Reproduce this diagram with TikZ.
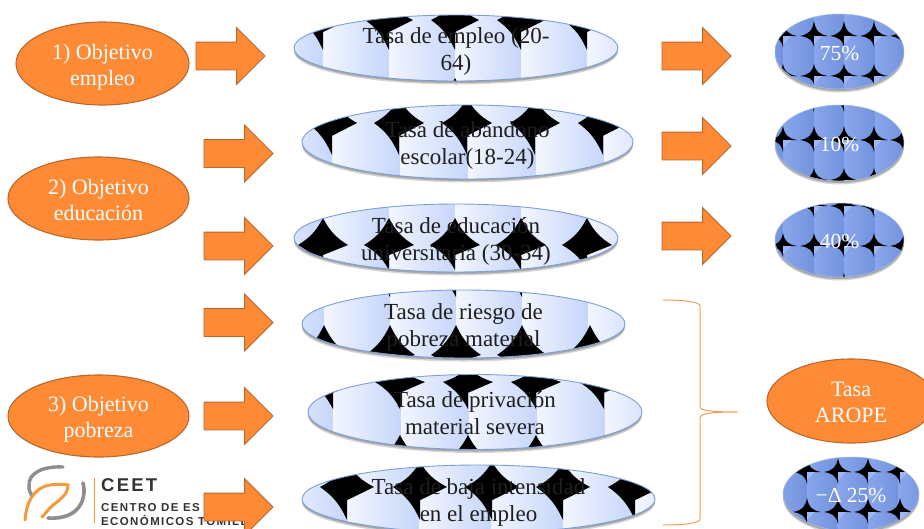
\documentclass[tikz,border=0pt]{standalone}
\usepackage{fontspec}
\setmainfont{Liberation Serif}
\newfontfamily\logofont[LetterSpace=12]{Liberation Sans}
\usetikzlibrary{shapes.geometric,shapes.arrows}
\definecolor{orfill}{HTML}{FE8A35}
\definecolor{ordraw}{HTML}{B9682E}
\definecolor{lineblue}{HTML}{7C9FD8}
\definecolor{litea}{HTML}{F3F6FF}
\definecolor{liteb}{HTML}{C6D6FA}
\definecolor{darka}{HTML}{8AA6EC}
\definecolor{darkb}{HTML}{7192DC}
\definecolor{darkc}{HTML}{A0B8F2}
\definecolor{bracecol}{HTML}{FB9A55}
\definecolor{logogray}{HTML}{8E8E8E}
\definecolor{logoor}{HTML}{F59A3C}
\newcommand{\tx}[2][-8.5pt]{\raisebox{#1}[0pt][0pt]{\begin{tabular}{@{}c@{}}#2\end{tabular}}}
\newcommand{\tl}[1]{\tx[-10pt]{#1}}
\tikzset{
  x=1pt,y=-1pt,
  ovaltext/.style={align=center,ellipse,inner sep=0pt,outer sep=0pt},
  orangeoval/.style={ovaltext,font=\fontsize{22}{26}\selectfont,fill=orfill,draw=ordraw,line width=1.1pt,text=white},
  liteoval/.style={ovaltext,font=\fontsize{23}{26.5}\selectfont,draw=lineblue,line width=.9pt,text=black!88},
  darkoval/.style={ovaltext,font=\fontsize{21.5}{26}\selectfont,draw=lineblue!70!white,line width=.5pt,text=white},
  bigarrow/.style={single arrow,shape border rotate=0,anchor=tail,text width=0pt,text height=27pt,text depth=0pt,
    minimum height=69pt,single arrow head extend=14.5pt,inner sep=0pt,outer sep=0pt,
    fill=orfill,draw=ordraw,line width=.9pt},
  logotext/.style={anchor=west,inner sep=0pt,text=black!80,font=\logofont}
}
% star: cx cy a top bottom
\newcommand{\onestar}[5]{%
  \fill[black] (#1,#2-#4) .. controls (#1+.27*#3,#2-.52*#4) and (#1+.52*#3,#2-.27*#4) .. (#1+#3,#2)
    -- (#1,#2+.40*#5) -- (#1,#2+#5)
    .. controls (#1-.27*#3,#2+.52*#5) and (#1-.52*#3,#2+.27*#5) .. (#1-#3,#2)
    .. controls (#1-.52*#3,#2-.27*#4) and (#1-.27*#3,#2-.52*#4) .. cycle;}
% the slimmer star of the small, dark tiles
\newcommand{\slimstar}[5]{%
  \fill[black] (#1,#2-#4) .. controls (#1+.12*#3,#2-.35*#4) and (#1+.35*#3,#2-.12*#4) .. (#1+#3,#2)
    -- (#1,#2) -- (#1,#2+#5)
    .. controls (#1-.12*#3,#2+.35*#5) and (#1-.35*#3,#2+.12*#5) .. (#1-#3,#2)
    .. controls (#1-.35*#3,#2-.12*#4) and (#1-.12*#3,#2-.35*#4) .. cycle;}
\newcommand{\starrow}[5]{\foreach \sx in {#1}{\onestar{\sx}{#2}{#3}{#4}{#5}}}
\newcommand{\litetiles}[5]{% start period n top bottom
  \foreach \ti in {0,...,#3}{
    \shade[left color=litea,right color=liteb] ({#1+\ti*#2},#4) rectangle ({#1+\ti*#2+#2+.3},#5);}}
\newcommand{\darktiles}[5]{%
  \foreach \ti in {0,...,#3}{
    \shade[left color=darka,right color=darkb] ({#1+\ti*#2},#4) rectangle ({#1+\ti*#2+#2+.3},#5);}}
\newcommand{\darkrow}[5]{% seams y a top bottom
  \foreach \sx in {#1}{
    \slimstar{\sx}{#2}{#3}{#4}{#5}
    \fill[darkc] (\sx,#2) -- (\sx+8,#2) -- (\sx,#2+8) -- cycle;}}
\newcommand{\ovalshadow}[4]{%
  \fill[black,opacity=.16] (#1,#2+3.5) ellipse [x radius=#3,y radius=#4];
  \fill[black,opacity=.22] (#1,#2+2) ellipse [x radius=#3,y radius=#4];}
\begin{document}
\begin{tikzpicture}
\path[use as bounding box,clip] (0,0) rectangle (924,528);
\fill[white] (0,0) rectangle (924,528);

% logo
\draw[logogray,line width=3.4pt,line cap=round] (63,467) .. controls (45,466) and (28,472) .. (29,486) .. controls (29,490) and (30,493) .. (32,496);
\draw[logogray,line width=3.6pt,line cap=round] (83,483) .. controls (87,498) and (80,520) .. (48,518);
\draw[logoor,line width=3pt,line cap=round] (25,520) .. controls (26,505) and (32,488) .. (50,485) .. controls (58,484) and (64,484) .. (68,485) .. controls (68,496) and (58,500) .. (50,508) .. controls (47,511) and (45,514) .. (42,517);
\draw[logoor,line width=.8pt] (94,478) -- (94,523);
\node[logotext,font=\logofont\bfseries\fontsize{18.5}{18.5}\selectfont] (logoa) at (101,485) {CEET};
\node[logotext,font=\logofont\bfseries\fontsize{11.5}{11.5}\selectfont] (logob) at (101,508) {CENTRO DE ES};
\node[logotext,font=\logofont\bfseries\fontsize{11.5}{11.5}\selectfont] (logoc) at (101,520) {ECONÓMICOS TOMILLO};

% arrows
\node[bigarrow] (a1) at (196,56) {};
\node[bigarrow] (a2) at (204,153.5) {};
\node[bigarrow] (a3) at (204,246) {};
\node[bigarrow] (a4) at (204,322.5) {};
\node[bigarrow] (a5) at (204,416) {};
\node[bigarrow] (a6) at (204,507) {};
\node[bigarrow] (a7) at (662,56) {};
\node[bigarrow] (a8) at (662,146) {};
\node[bigarrow] (a9) at (662,236) {};

% orange ovals
\node[orangeoval,minimum width=173pt,minimum height=83pt] (o1) at (102.5,63.5) {\tx{1) Objetivo\\empleo}};
\node[orangeoval,minimum width=181pt,minimum height=83pt] (o2) at (98.5,198.5) {\tx{2) Objetivo\\educación}};
\node[orangeoval,minimum width=181pt,minimum height=82pt] (o3) at (98.5,416) {\tx{3) Objetivo\\pobreza}};
\node[orangeoval,minimum width=168pt,minimum height=84pt] (o4) at (851,401) {\tx{Tasa\\AROPE}};

% light oval 1
\ovalshadow{456}{48}{162}{33}
\begin{scope}
\clip (456,48) ellipse [x radius=162,y radius=33];
\litetiles{257}{66}{5}{10}{90}
\starrow{323,389,455,521,587}{20}{24}{20}{30}
\starrow{323,389,455,521,587}{105}{24}{27}{20}
\end{scope}
\node[liteoval,minimum width=324pt,minimum height=66pt] (t1) at (456,48) {\tl{Tasa de empleo (20-\\64)}};

% light oval 2
\ovalshadow{467.5}{142}{165.5}{37}
\begin{scope}
\clip (467.5,142) ellipse [x radius=165.5,y radius=37];
\litetiles{264}{68}{5}{100}{185}
\starrow{332,399,467,535,603}{123}{25}{25}{32}
\end{scope}
\node[liteoval,minimum width=331pt,minimum height=74pt] (t2) at (467.5,142) {\tl{Tasa de abandono\\escolar(18-24)}};

% light oval 3
\ovalshadow{456}{238}{162}{34}
\begin{scope}
\clip (456,238) ellipse [x radius=162,y radius=34];
\litetiles{257}{66}{5}{200}{280}
\starrow{323,389,455,521,587}{245}{25}{27}{25}
\end{scope}
\node[liteoval,minimum width=324pt,minimum height=68pt] (t3) at (456,238) {\tl{Tasa de educación\\universitaria (30-34)}};

% light oval 4
\ovalshadow{463.5}{324}{161.5}{34}
\begin{scope}
\clip (463.5,324) ellipse [x radius=161.5,y radius=34];
\litetiles{258}{66}{5}{285}{365}
\starrow{324,390,456,522,590}{270}{25}{27}{27}
\starrow{324,390,456,522,590}{355}{25}{30}{20}
\end{scope}
\node[liteoval,minimum width=323pt,minimum height=68pt] (t4) at (463.5,324) {\tl{Tasa de riesgo de\\pobreza material}};

% light oval 5
\ovalshadow{475}{412}{167}{37.5}
\begin{scope}
\clip (475,412) ellipse [x radius=167,y radius=37.5];
\litetiles{265}{68}{5}{370}{455}
\starrow{333,400,468,536,604}{382}{25}{15}{27}
\starrow{333,400,468,536,604}{462}{25}{27}{15}
\end{scope}
\node[liteoval,minimum width=334pt,minimum height=75pt] (t5) at (475,412) {\tl{Tasa de privación\\material severa}};

% light oval 6
\ovalshadow{478.5}{499}{176.5}{34}
\begin{scope}
\clip (478.5,499) ellipse [x radius=176.5,y radius=34];
\litetiles{275}{72}{5}{460}{540}
\starrow{347,420,492,563,635}{487}{27}{25}{33}
\end{scope}
\node[liteoval,minimum width=353pt,minimum height=68pt] (t6) at (478.5,499) {\tl{Tasa de baja intensidad\\en el empleo}};

% dark oval 75
\ovalshadow{839.5}{51.5}{64.5}{37.5}
\begin{scope}
\clip (839.5,51.5) ellipse [x radius=64.5,y radius=37.5];
\darktiles{753}{30.5}{5}{8}{96}
\darkrow{783,814,844,874,904}{36}{14}{15}{11}
\darkrow{783,814,844,874,904}{76}{14}{12}{8}
\end{scope}
\node[darkoval,minimum width=129pt,minimum height=75pt] (p1) at (839.5,51.5) {\tx{75\%}};

% dark oval 10
\ovalshadow{839.5}{143}{64.5}{38}
\begin{scope}
\clip (839.5,143) ellipse [x radius=64.5,y radius=38];
\darktiles{753}{30.5}{5}{100}{188}
\darkrow{783,814,844,874,904}{100}{14}{12}{12}
\darkrow{783,814,844,874,904}{140}{14}{14}{12}
\darkrow{783,814,844,874,904}{180}{14}{12}{8}
\end{scope}
\node[darkoval,minimum width=129pt,minimum height=76pt] (p2) at (839.5,143) {\tx{10\%}};

% dark oval 40
\ovalshadow{839.5}{240}{64.5}{37}
\begin{scope}
\clip (839.5,240) ellipse [x radius=64.5,y radius=37];
\darktiles{753}{30.5}{5}{198}{285}
\darkrow{783,814,844,874,904}{206}{14}{12}{11}
\darkrow{783,814,844,874,904}{246}{14}{13}{11}
\darkrow{783,814,844,874,904}{286}{14}{13}{5}
\end{scope}
\node[darkoval,minimum width=129pt,minimum height=74pt] (p3) at (839.5,240) {\tx{40\%}};

% dark oval delta
\ovalshadow{851}{494}{68}{37}
\begin{scope}
\clip (851,494) ellipse [x radius=68,y radius=37];
\darktiles{746}{30.5}{6}{450}{535}
\darkrow{777,807,838,868,900}{472}{14}{14}{12}
\darkrow{777,807,838,868,900}{512}{14}{14}{12}
\end{scope}
\node[darkoval,minimum width=136pt,minimum height=74pt] (p4) at (851,494) {\tx{−Δ 25\%}};

% brace
\coordinate (b1) at (663,300);
\coordinate (b2) at (738,412);
\coordinate (b3) at (663,525);
\draw[bracecol,line width=1pt] (b1) .. controls (685,300) and (700,302) .. (700,306) -- (700,407)
  .. controls (700,411) and (715,412) .. (b2) .. controls (715,412) and (700,413) .. (700,418)
  -- (700,519) .. controls (700,523) and (685,525) .. (b3);
\end{tikzpicture}
\end{document}
